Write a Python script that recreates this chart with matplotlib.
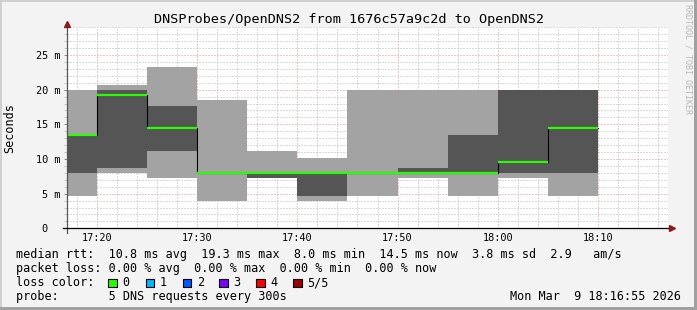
import datetime as dt
import numpy as np
import matplotlib
matplotlib.use("Agg")
import matplotlib.pyplot as plt
import matplotlib.dates as mdates
from matplotlib.ticker import MultipleLocator, FuncFormatter
from matplotlib.patches import Rectangle

# 5 minute steps, start time of each step (hh, mm) on 2026-03-09
step_starts = [(17, 15), (17, 20), (17, 25), (17, 30), (17, 35), (17, 40),
               (17, 45), (17, 50), (17, 55), (18, 0), (18, 5)]
step_end = (18, 10)
# sorted ping rtts per step in ms (5 pings -> min, 2nd, median, 4th, max)
ping_min = [4.7, 8.0, 7.3, 3.9, 7.3, 3.9, 4.7, 7.3, 4.7, 7.3, 4.7]
ping_lo = [8.0, 8.75, 11.15, 8.0, 7.3, 4.7, 8.0, 8.0, 8.0, 8.0, 8.0]
ping_med = [13.5, 19.3, 14.5, 8.0, 8.0, 8.0, 8.0, 8.0, 8.0, 9.5, 14.5]
ping_hi = [13.5, 20.0, 17.6, 8.0, 8.0, 8.0, 8.0, 8.75, 13.45, 20.0, 20.0]
ping_max = [20.0, 20.7, 23.3, 18.5, 11.15, 10.15, 20.0, 20.0, 20.0, 20.0, 20.0]

loss_labels = ["0", "1", "2", "3", "4", "5/5"]
loss_colors = ["#26ff00", "#00b8ff", "#0059ff", "#7e00ff", "#ff0000", "#a10000"]

title = "DNSProbes/OpenDNS2 from 1676c57a9c2d to OpenDNS2"
stat_lines = [
    "median rtt:  10.8 ms avg  19.3 ms max  8.0 ms min  14.5 ms now  3.8 ms sd  2.9   am/s",
    "packet loss: 0.00 % avg  0.00 % max  0.00 % min  0.00 % now",
]
probe_line = "probe:       5 DNS requests every 300s"
stamp = "Mon Mar  9 18:16:55 2026"

day = dt.datetime(2026, 3, 9)
t = lambda hm: day.replace(hour=hm[0], minute=hm[1])
edges = [t(s) for s in step_starts] + [t(step_end)]
ext = lambda v: np.append(np.array(v), v[-1])

W, H = 697, 310
mono = "DejaVu Sans Mono"
plt.rcParams["font.family"] = mono

fig = plt.figure(figsize=(W / 100, H / 100), dpi=100, facecolor="#f3f3f3")
# frame
fig.patches.append(Rectangle((0, 1 - 2 / H), 1, 2 / H, transform=fig.transFigure, color="#d0d0d0", lw=0))
fig.patches.append(Rectangle((0, 0), 2 / W, 1, transform=fig.transFigure, color="#d0d0d0", lw=0))
fig.patches.append(Rectangle((0, 0), 1, 3 / H, transform=fig.transFigure, color="#a0a0a0", lw=0))
fig.patches.append(Rectangle((1 - 3 / W, 0), 3 / W, 1, transform=fig.transFigure, color="#a0a0a0", lw=0))

x0, x1, ytop, ybot = 67, 668, 27.3, 228.3
ax = fig.add_axes([x0 / W, 1 - ybot / H, (x1 - x0) / W, (ybot - ytop) / H])
ax.set_facecolor("white")

# smoke
ax.fill_between(edges, ext(ping_min), ext(ping_max), step="post", color="#a3a3a3", lw=0, zorder=2)
ax.fill_between(edges, ext(ping_lo), ext(ping_hi), step="post", color="#555555", lw=0, zorder=3)
# median
ax.step(edges, ext(ping_med), where="post", color="black", lw=0.8, zorder=4)
ax.hlines(ping_med, edges[:-1], edges[1:], color=loss_colors[0], lw=1.6, zorder=5, capstyle="butt")

ax.set_xlim(day.replace(hour=17, minute=17), day.replace(hour=18, minute=17))
ax.set_ylim(0, 29)

ax.xaxis.set_major_locator(mdates.MinuteLocator(byminute=range(0, 60, 10)))
ax.xaxis.set_minor_locator(mdates.MinuteLocator(byminute=range(0, 60, 2)))
ax.xaxis.set_major_formatter(mdates.DateFormatter("%H:%M"))
ax.yaxis.set_major_locator(MultipleLocator(5))
ax.yaxis.set_minor_locator(MultipleLocator(1))
ax.yaxis.set_major_formatter(FuncFormatter(lambda v, p: "0\u00a0\u00a0" if v == 0 else f"{v:.0f} m"))

ax.set_axisbelow(True)
ax.grid(which="minor", color="#b4b4b4", linestyle=(0, (1, 2)), lw=0.72)
ax.grid(which="major", color="#e68c8c", linestyle=(0, (1, 2)), lw=0.72)

ax.tick_params(axis="x", which="both", length=0, pad=3.5, labelsize=7.4)
ax.tick_params(axis="y", which="major", length=2.2, width=0.6, color="#777777", pad=2.5, labelsize=7.4)
ax.tick_params(axis="y", which="minor", length=2.2, width=0.6, color="#bbbbbb")
for sp in ax.spines.values():
    sp.set_visible(False)

# axis lines with arrows
ax.plot([0, 0], [-0.023, 1.02], transform=ax.transAxes, color="#555555", lw=0.9, clip_on=False, zorder=6)
ax.plot([-0.007, 1.002], [0, 0], transform=ax.transAxes, color="black", lw=0.9, clip_on=False, zorder=6)
ax.plot([0], [1.018], marker="^", ms=4.5, color="#8b1a1a", transform=ax.transAxes, clip_on=False, zorder=7)
ax.plot([1.006], [0], marker=">", ms=4.5, color="#8b1a1a", transform=ax.transAxes, clip_on=False, zorder=7)

fig.text(348.5 / W, 1 - 19.3 / H, title, ha="center", va="center", fontsize=9.7)
fig.text(10 / W, 1 - 128 / H, "Seconds", rotation=90, ha="center", va="center", fontsize=8.5)
fig.text(688 / W, 1 - 4 / H, "RRDTOOL / TOBI OETIKER", rotation=270, ha="center", va="top",
         fontsize=6, color="#b8b8b8")

# legend block
base = [258.4, 272.4, 286.4, 300.2]
for i, line in enumerate(stat_lines):
    fig.text(16 / W, 1 - base[i] / H, line, ha="left", va="baseline", fontsize=8.5)
fig.text(16 / W, 1 - base[2] / H, "loss color:", ha="left", va="baseline", fontsize=8.5)
box_x = [108.3, 145.7, 182.7, 219.3, 256.3, 293.3]
for bx, lab, col in zip(box_x, loss_labels, loss_colors):
    fig.patches.append(Rectangle((bx / W, 1 - 286.7 / H), 8.4 / W, 8 / H, transform=fig.transFigure,
                                 facecolor=col, edgecolor="black", lw=0.8))
    fig.text((bx + 14) / W, 1 - base[2] / H, lab, ha="left", va="baseline", fontsize=8.5)
fig.text(16 / W, 1 - base[3] / H, probe_line, ha="left", va="baseline", fontsize=8.5)
fig.text(681 / W, 1 - base[3] / H, stamp, ha="right", va="baseline", fontsize=8.5)

fig.savefig("out.png", dpi=100, facecolor=fig.get_facecolor())
